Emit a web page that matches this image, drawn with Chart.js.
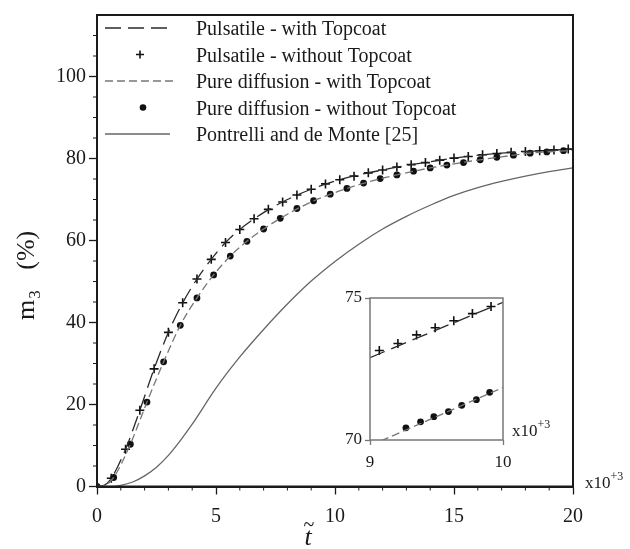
<!DOCTYPE html>
<html>
<head>
<meta charset="utf-8">
<script src="https://cdn.jsdelivr.net/npm/chart.js@4.4.1/dist/chart.umd.min.js"></script>
<style>
  body { margin: 0; background: #fff; }
  #wrap { position: relative; width: 630px; height: 549px; }
  #main { position: absolute; left: 0; top: 0; width: 630px; height: 549px; }
  #inset { position: absolute; left: 330px; top: 280px; width: 240px; height: 200px; }
</style>
</head>
<body>
<div id="wrap">
  <div id="main"><canvas id="mainChart"></canvas></div>
  <div id="inset"><canvas id="insetChart"></canvas></div>
</div>
<script>
// Pulsatile - without Topcoat (markers)
const crossT  = [0, 0.6, 1.2, 1.8, 2.4, 3.0, 3.6, 4.2, 4.8, 5.4, 6.0, 6.6, 7.2, 7.8, 8.4, 9.0, 9.6, 10.2, 10.8, 11.4, 12.0, 12.6, 13.2, 13.8, 14.4, 15.0, 15.6, 16.2, 16.8, 17.4, 18.0, 18.6, 19.2, 19.8];
const crossM3 = [0, 2.0, 9.1, 18.6, 28.7, 37.6, 44.8, 50.6, 55.4, 59.5, 62.7, 65.3, 67.6, 69.4, 71.1, 72.5, 73.8, 74.8, 75.7, 76.5, 77.2, 77.9, 78.5, 79.0, 79.6, 80.1, 80.5, 80.9, 81.2, 81.5, 81.7, 81.9, 82.1, 82.3];

// Pure diffusion - without Topcoat (markers)
const dotT  = [0, 0.7, 1.4, 2.1, 2.8, 3.5, 4.2, 4.9, 5.6, 6.3, 7.0, 7.7, 8.4, 9.1, 9.8, 10.5, 11.2, 11.9, 12.6, 13.3, 14.0, 14.7, 15.4, 16.1, 16.8, 17.5, 18.2, 18.9, 19.6];
const dotM3 = [0, 2.2, 10.3, 20.6, 30.4, 39.3, 46.0, 51.6, 56.2, 59.8, 62.8, 65.4, 67.8, 69.7, 71.3, 72.7, 74.0, 75.1, 76.0, 76.9, 77.7, 78.4, 79.0, 79.7, 80.3, 80.8, 81.3, 81.6, 81.9];

// Pulsatile - with Topcoat (long dash)
const pulsT  = [0, 0.3, 0.6, 1.2, 1.8, 2.4, 3.0, 3.6, 4.2, 4.8, 5.4, 6.0, 7, 8, 9, 10, 11, 12, 13, 14, 15, 16, 17, 18, 19, 20];
const pulsM3 = [0, 0.3, 2.0, 9.1, 18.6, 28.7, 37.6, 44.8, 50.6, 55.4, 59.5, 62.7, 66.8, 70.0, 72.5, 74.5, 76.0, 77.2, 78.3, 79.2, 80.1, 80.8, 81.3, 81.7, 82.0, 82.3];

// Pure diffusion - with Topcoat (short dash)
const diffT  = [0, 0.35, 0.7, 1.4, 2.1, 2.8, 3.5, 4.2, 4.9, 5.6, 6.3, 7, 8, 9, 10, 11, 12, 13, 14, 15, 16, 17, 18, 19, 20];
const diffM3 = [0, 0.3, 2.2, 10.3, 20.6, 30.4, 39.3, 46.0, 51.6, 56.2, 59.8, 62.8, 66.4, 69.4, 71.7, 73.6, 75.2, 76.5, 77.7, 78.7, 79.6, 80.4, 81.2, 81.65, 82.0];

// Pontrelli and de Monte [25]
const pontT  = [0, 0.5, 1, 1.5, 2, 2.5, 3, 3.5, 4, 5, 6, 7, 8, 9, 10, 11, 12, 13, 14, 15, 16, 17, 18, 19, 20];
const pontM3 = [0, 0, 0.3, 1.1, 2.6, 4.7, 7.6, 11.2, 15.2, 24.0, 31.6, 38.3, 44.5, 50.1, 54.9, 59.1, 62.8, 65.9, 68.6, 71.0, 72.9, 74.4, 75.7, 76.8, 77.7];

// inset (zoom of 9..10 x10^3)
const insetCrossT  = [9.07, 9.21, 9.35, 9.49, 9.63, 9.77, 9.91];
const insetCrossM3 = [73.15, 73.4, 73.7, 73.95, 74.2, 74.45, 74.7];
const insetDotT  = [9.27, 9.38, 9.48, 9.59, 9.69, 9.80, 9.90];
const insetDotM3 = [70.43, 70.64, 70.82, 71.0, 71.22, 71.42, 71.68];
const insetPulsT  = [9, 10];
const insetPulsM3 = [72.9, 74.85];
const insetDiffT  = [9, 10];
const insetDiffM3 = [69.8, 71.85];

const legendLabels = ['Pulsatile - with Topcoat', 'Pulsatile - without Topcoat', 'Pure diffusion - with Topcoat', 'Pure diffusion - without Topcoat', 'Pontrelli and de Monte [25]'];
const mainYTicks = [0, 20, 40, 60, 80, 100];

const SERIF = "'Liberation Serif', 'Times New Roman', serif";
const pts = (xs, ys) => xs.map((x, i) => ({ x: x, y: ys[i] }));

// styles per series
const styles = {
    puls:  { borderColor: '#2a2a2a', borderWidth: 1.3, borderDash: [16, 7] },
    cross: { pointStyle: 'cross', pointRadius: 4.5, pointBorderWidth: 1.6, pointBorderColor: '#111' },
    diff:  { borderColor: '#777', borderWidth: 1.3, borderDash: [8, 4] },
    dot:   { pointStyle: 'circle', pointRadius: 3.4, pointBackgroundColor: '#111', pointBorderColor: '#111', pointBorderWidth: 0 },
    pont:  { borderColor: '#666', borderWidth: 1.3 }
};

function lineSet(data, st) {
    return Object.assign({ data: data, showLine: true, pointRadius: 0, fill: false, cubicInterpolationMode: 'monotone' }, st);
}
function markSet(data, st) {
    return Object.assign({ data: data, showLine: false }, st);
}

const whiteBg = {
    id: 'whiteBg',
    beforeDraw(chart) {
        const c = chart.ctx;
        c.save();
        c.fillStyle = '#fff';
        c.fillRect(0, 0, chart.width, chart.height);
        c.restore();
    }
};

// frame, minor ticks, legend and titles of the main chart
const mainDecor = {
    id: 'mainDecor',
    afterDraw(chart) {
        const c = chart.ctx;
        const a = chart.chartArea;
        const xs = chart.scales.x, ys = chart.scales.y;
        c.save();
        c.strokeStyle = '#1a1a1a';
        c.lineWidth = 2;
        c.strokeRect(a.left, a.top, a.right - a.left, a.bottom - a.top);

        // minor ticks
        c.lineWidth = 1;
        c.beginPath();
        for (let v = 1; v < 20; v++) {
            if (v % 5 === 0) continue;
            const px = xs.getPixelForValue(v);
            c.moveTo(px, a.bottom);
            c.lineTo(px, a.bottom + 4);
        }
        for (let v = 5; v < 115; v += 5) {
            if (v % 20 === 0) continue;
            const py = ys.getPixelForValue(v);
            c.moveTo(a.left, py);
            c.lineTo(a.left - 4, py);
        }
        c.stroke();

        // legend
        const rowBase = [35, 61.5, 88, 114.5, 141];
        const sx0 = a.left + 8, sx1 = a.left + 73;
        c.font = '20px ' + SERIF;
        c.fillStyle = '#1a1a1a';
        c.textAlign = 'left';
        c.textBaseline = 'alphabetic';
        legendLabels.forEach((lab, i) => {
            const cy = rowBase[i] - 7;
            c.save();
            if (i === 0 || i === 2 || i === 4) {
                const st = i === 0 ? styles.puls : (i === 2 ? styles.diff : styles.pont);
                c.strokeStyle = st.borderColor;
                c.lineWidth = st.borderWidth;
                c.setLineDash(st.borderDash || []);
                c.beginPath();
                c.moveTo(sx0, cy);
                c.lineTo(i === 2 ? sx1 + 7 : sx1, cy);
                c.stroke();
            } else if (i === 1) {
                c.strokeStyle = '#111';
                c.lineWidth = 1.6;
                c.beginPath();
                c.moveTo(140 - 4, cy); c.lineTo(140 + 4, cy);
                c.moveTo(140, cy - 4); c.lineTo(140, cy + 4);
                c.stroke();
            } else {
                c.fillStyle = '#111';
                c.beginPath();
                c.arc(143, cy, 3.3, 0, Math.PI * 2);
                c.fill();
            }
            c.restore();
            c.fillText(lab, 196, rowBase[i]);
        });

        // y title: m_3 (%)
        c.save();
        c.translate(34, 320);
        c.rotate(-Math.PI / 2);
        c.font = '26px ' + SERIF;
        c.fillText('m', 0, 0);
        const mw = c.measureText('m').width;
        c.font = '17px ' + SERIF;
        c.fillText('3', mw + 1, 6);
        c.font = '26px ' + SERIF;
        c.fillText('(%)', mw + 30, 0);
        c.restore();

        // x title: t with tilde
        c.textAlign = 'center';
        c.font = 'italic 26px ' + SERIF;
        c.fillText('t', 308, 545);
        c.font = '20px ' + SERIF;
        c.fillText('~', 309, 531);

        // x10^+3
        c.textAlign = 'left';
        c.font = '17px ' + SERIF;
        c.fillText('x10', 585, 488);
        const w = c.measureText('x10').width;
        c.font = '12px ' + SERIF;
        c.fillText('+3', 585 + w, 480);
        c.restore();
    }
};

const insetDecor = {
    id: 'insetDecor',
    afterDraw(chart) {
        const c = chart.ctx;
        const a = chart.chartArea;
        c.save();
        c.strokeStyle = '#777';
        c.lineWidth = 1.5;
        c.strokeRect(a.left, a.top, a.right - a.left, a.bottom - a.top);
        c.fillStyle = '#1a1a1a';
        c.font = '17px ' + SERIF;
        c.textAlign = 'left';
        c.fillText('x10', a.right + 9, a.bottom - 4);
        const w = c.measureText('x10').width;
        c.font = '12px ' + SERIF;
        c.fillText('+3', a.right + 9 + w, a.bottom - 12);
        c.restore();
    }
};

function initMain() {
    const ctx = document.getElementById('mainChart').getContext('2d');
    new Chart(ctx, {
        type: 'scatter',
        data: {
            datasets: [
                lineSet(pts(pontT, pontM3), styles.pont),
                lineSet(pts(diffT, diffM3), styles.diff),
                lineSet(pts(pulsT, pulsM3), styles.puls),
                markSet(pts(dotT, dotM3), styles.dot),
                markSet(pts(crossT, crossM3), styles.cross)
            ]
        },
        options: {
            responsive: true,
            maintainAspectRatio: false,
            animation: false,
            layout: { padding: { top: 13, right: 57, left: 0, bottom: 0 } },
            plugins: { legend: { display: false }, tooltip: { enabled: false } },
            scales: {
                x: {
                    type: 'linear', min: 0, max: 20,
                    afterFit: (s) => { s.height = 62.5; },
                    grid: { drawOnChartArea: false, tickLength: 8, color: '#1a1a1a', tickWidth: 1.3 },
                    border: { display: true, color: '#1a1a1a', width: 2 },
                    ticks: { stepSize: 5, color: '#1a1a1a', padding: 10, font: { family: SERIF, size: 20 } }
                },
                y: {
                    type: 'linear', min: 0, max: 115,
                    afterFit: (s) => { s.width = 97; },
                    afterBuildTicks: (s) => { s.ticks = mainYTicks.map(v => ({ value: v })); },
                    grid: { drawOnChartArea: false, tickLength: 8, color: '#1a1a1a', tickWidth: 1.3 },
                    border: { display: true, color: '#1a1a1a', width: 2 },
                    ticks: { color: '#1a1a1a', padding: 3, font: { family: SERIF, size: 20 } }
                }
            }
        },
        plugins: [whiteBg, mainDecor]
    });
}

function initInset() {
    const ctx = document.getElementById('insetChart').getContext('2d');
    new Chart(ctx, {
        type: 'scatter',
        data: {
            datasets: [
                lineSet(pts(insetDiffT, insetDiffM3), styles.diff),
                lineSet(pts(insetPulsT, insetPulsM3), styles.puls),
                markSet(pts(insetDotT, insetDotM3), styles.dot),
                markSet(pts(insetCrossT, insetCrossM3), styles.cross)
            ]
        },
        options: {
            responsive: true,
            maintainAspectRatio: false,
            animation: false,
            layout: { padding: { top: 18, right: 67, left: 0, bottom: 0 } },
            plugins: { legend: { display: false }, tooltip: { enabled: false } },
            scales: {
                x: {
                    type: 'linear', min: 9, max: 10,
                    afterFit: (s) => { s.height = 40; },
                    grid: { drawOnChartArea: false, tickLength: 5, color: '#777', tickWidth: 1.3 },
                    border: { display: false },
                    ticks: { stepSize: 1, color: '#1a1a1a', padding: 7, font: { family: SERIF, size: 17 } }
                },
                y: {
                    type: 'linear', min: 70, max: 75,
                    afterFit: (s) => { s.width = 40; },
                    grid: { drawOnChartArea: false, tickLength: 5, color: '#777', tickWidth: 1.3 },
                    border: { display: false },
                    ticks: { stepSize: 5, color: '#1a1a1a', padding: 3, font: { family: SERIF, size: 17 } }
                }
            }
        },
        plugins: [whiteBg, insetDecor]
    });
}

initMain();
initInset();
</script>
</body>
</html>
